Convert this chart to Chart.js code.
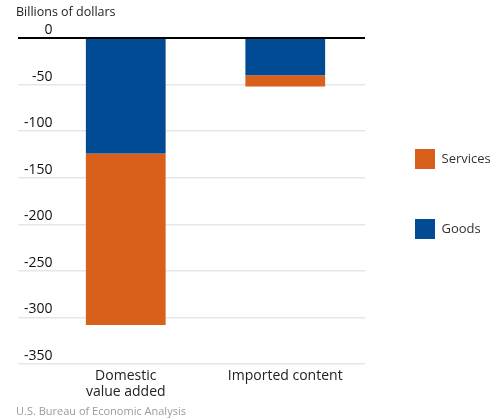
<!DOCTYPE html>
<html>
<head>
<meta charset="utf-8">
<script src="https://cdn.jsdelivr.net/npm/chart.js@4"></script>
<style>
html,body{margin:0;padding:0;background:#fff;}
#wrap{width:496px;height:419px;position:relative;}
</style>
</head>
<body>
<div id="wrap"><canvas id="c" width="496" height="419"></canvas></div>
<script>
const categories = [['Domestic', 'value added'], 'Imported content'];
const goods = [-124, -40];
const services = [-184, -12];
const yTicks = { min: -350, max: 0, step: 50 };
const seriesNames = ['Goods', 'Services'];
const colors = { goods: '#004b93', services: '#d9601a' };
const unitLabel = 'Billions of dollars';
const sourceLabel = 'U.S. Bureau of Economic Analysis';

const FONT = "'Open Sans', sans-serif";

new Chart(document.getElementById('c'), {
  type: 'bar',
  data: {
    labels: categories,
    datasets: [
      { label: seriesNames[0], data: goods, backgroundColor: colors.goods },
      { label: seriesNames[1], data: services, backgroundColor: colors.services }
    ]
  },
  options: {
    responsive: false,
    animation: false,
    devicePixelRatio: 1,
    layout: { padding: { left: 16, right: 0, top: 0, bottom: 0 } },
    datasets: { bar: { categoryPercentage: 1, barPercentage: 0.5 } },
    plugins: {
      tooltip: { enabled: false },
      title: {
        display: true, text: unitLabel, align: 'start',
        color: '#222', font: { family: FONT, size: 12.5, weight: 'normal' },
        padding: { top: 5, bottom: 18 }
      },
      subtitle: {
        display: true, text: sourceLabel, align: 'start', position: 'bottom',
        color: '#9a9a9a', font: { family: FONT, size: 11, weight: 'normal' },
        padding: { top: 2, bottom: 1 }
      },
      legend: {
        position: 'right', reverse: true, fullSize: false, maxWidth: 131,
        title: { display: true, text: '', font: { size: 10 }, padding: { top: -13, bottom: -13 } },
        labels: {
          boxWidth: 20, boxHeight: 20, padding: 50,
          color: '#333', font: { family: FONT, size: 13 }
        }
      }
    },
    scales: {
      x: {
        stacked: true,
        grid: { display: false, drawTicks: false },
        border: { display: false },
        ticks: { color: '#222', padding: 4, font: { family: FONT, size: 14, lineHeight: 1.15 } },
        afterFit: s => { s.height = 38.8; }
      },
      y: {
        stacked: true,
        min: yTicks.min, max: yTicks.max,
        border: { display: false },
        grid: {
          color: ctx => (ctx.tick && ctx.tick.value === 0) ? '#000' : '#e6e6e6',
          lineWidth: ctx => (ctx.tick && ctx.tick.value === 0) ? 2 : 1.5,
          tickLength: 28
        },
        ticks: {
          stepSize: yTicks.step, color: '#111', mirror: true, crossAlign: 'far',
          padding: -22, labelOffset: -8,
          font: { family: FONT, size: 14 }
        },
        afterFit: s => { s.width = 30; }
      }
    }
  }
});
</script>
</body>
</html>
